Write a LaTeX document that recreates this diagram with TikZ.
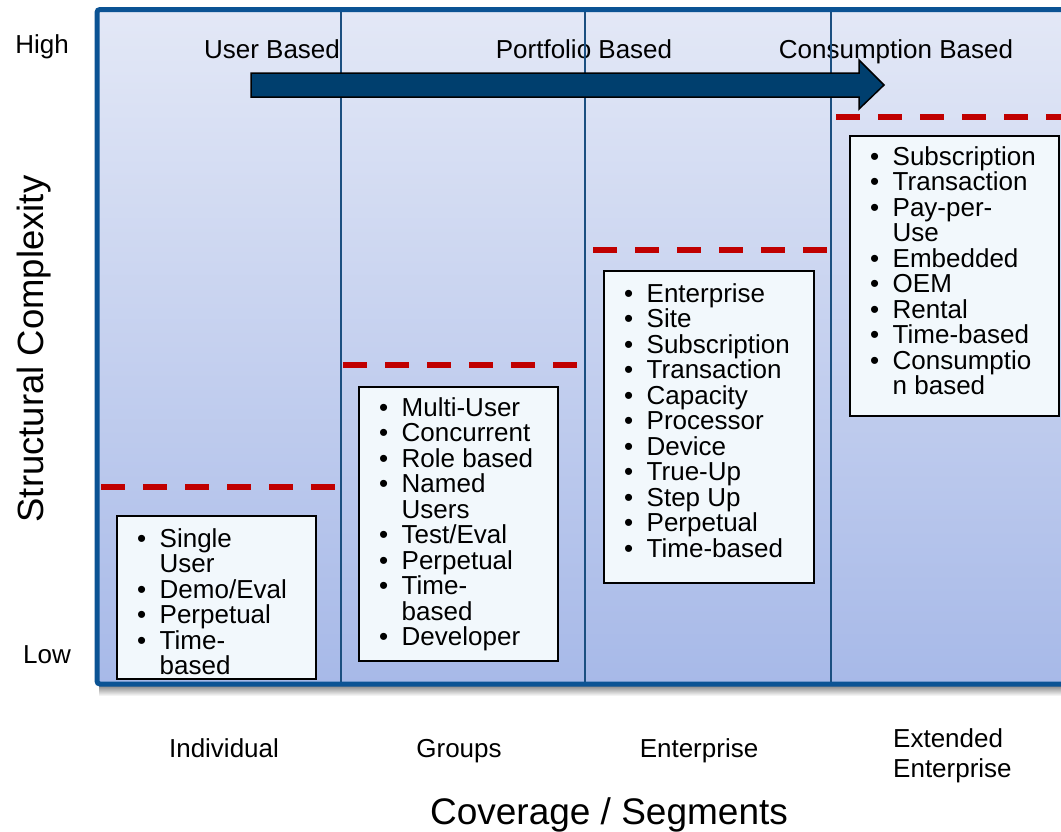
\documentclass[tikz,border=0pt]{standalone}
\usepackage{fontspec}
\setmainfont{Liberation Sans}
\definecolor{frameblue}{HTML}{0B5394}
\definecolor{divblue}{HTML}{1B4F80}
\definecolor{bgtop}{HTML}{E3E8F6}
\definecolor{bgbot}{HTML}{A7B9E8}
\definecolor{arrowfill}{HTML}{003F6E}
\definecolor{dashred}{HTML}{C00000}
\definecolor{boxfill}{HTML}{F2F8FC}
\newcommand\bitem{\makebox[22.5pt][l]{\textbullet}}
\newcommand\bcont{\hspace*{22.5pt}}
\tikzset{
  lbl/.style={anchor=base, inner sep=0pt, font=\fontsize{26}{30}\selectfont},
  axislbl/.style={anchor=base, inner sep=0pt, font=\fontsize{37}{40}\selectfont},
  divider/.style={draw=divblue, line width=1.5pt},
  reddash/.style={draw=dashred, line width=5.5pt, dash pattern=on 24pt off 18pt},
  bigarrow/.style={draw=black, line width=1.5pt, fill=arrowfill, line join=miter},
  listbox/.style={draw=black, line width=1.5pt, fill=boxfill, inner sep=0pt, anchor=north west},
  listtext/.style={anchor=north west, inner sep=0pt, align=left,
    font=\fontsize{26}{25.5}\selectfont},
}
\begin{document}
\begin{tikzpicture}[x=1pt,y=-1pt]
\useasboundingbox (0,0) rectangle (1061,831);
\clip (0,0) rectangle (1061,831);
% shadow of frame
\shade[top color=black!45, bottom color=white] (99,686) rectangle (1070,696);
% background frame
\shade[top color=bgtop, bottom color=bgbot] (97,9.5) rectangle (1070,684);
% top labels
\node[lbl] (high) at (42,53) {High};
\node[lbl] (low) at (47,663) {Low};
\node[lbl] (ub) at (272,58) {User Based};
\node[lbl] (pb) at (584,58) {Portfolio Based};
\node[lbl] (cb) at (896,58) {Consumption Based};
% dividers
\draw[divider] (341,12) -- (341,682);
\draw[divider] (585,12) -- (585,682);
\draw[divider] (831,12) -- (831,682);
% arrow
\draw[bigarrow] (251,73) -- (859,73) -- (859,60) -- (884,85) -- (859,109) -- (859,97) -- (251,97) -- cycle;
% red dashed thresholds
\draw[reddash] (101,487) -- (337,487);
\draw[reddash] (343,365) -- (579,365);
\draw[reddash] (593,250) -- (829,250);
\draw[reddash] (836,117) -- (1070,117);
% boxes
\node[listbox, minimum width=199pt, minimum height=163pt] (b1) at (116,515) {};
\node[listtext] (t1) at ([xshift=21pt,yshift=-13pt]b1.north west)
  {\bitem Single\\\bcont User\\\bitem Demo/Eval\\\bitem Perpetual\\\bitem Time-\\\bcont based};
\node[listbox, minimum width=199pt, minimum height=274pt] (b2) at (358,386) {};
\node[listtext] (t2) at ([xshift=21pt,yshift=-11pt]b2.north west)
  {\bitem Multi-User\\\bitem Concurrent\\\bitem Role based\\\bitem Named\\\bcont Users\\\bitem Test/Eval\\\bitem Perpetual\\\bitem Time-\\\bcont based\\\bitem Developer};
\node[listbox, minimum width=210pt, minimum height=312pt] (b3) at (603,270) {};
\node[listtext] (t3) at ([xshift=21pt,yshift=-13pt]b3.north west)
  {\bitem Enterprise\\\bitem Site\\\bitem Subscription\\\bitem Transaction\\\bitem Capacity\\\bitem Processor\\\bitem Device\\\bitem True-Up\\\bitem Step Up\\\bitem Perpetual\\\bitem Time-based};
\node[listbox, minimum width=209pt, minimum height=280pt] (b4) at (849,135) {};
\node[listtext] (t4) at ([xshift=21pt,yshift=-11pt]b4.north west)
  {\bitem Subscription\\\bitem Transaction\\\bitem Pay-per-\\\bcont Use\\\bitem Embedded\\\bitem OEM\\\bitem Rental\\\bitem Time-based\\\bitem Consumptio\\\bcont n based};
% frame border
\draw[draw=frameblue, line width=5pt, rounded corners=3pt] (97,9.5) rectangle (1070,684);
% bottom labels
\node[lbl] (ind) at (224,757) {Individual};
\node[lbl] (grp) at (459,757) {Groups};
\node[lbl] (ent) at (699,757) {Enterprise};
\node[lbl, anchor=base west] (ext1) at (893,747) {Extended};
\node[lbl, anchor=base west] (ext2) at (893,777) {Enterprise};
\node[axislbl] (xt) at (609,824) {Coverage / Segments};
\node[axislbl, rotate=90, font=\fontsize{36.5}{40}\selectfont] (yt) at (43,349) {Structural Complexity};
\end{tikzpicture}
\end{document}
